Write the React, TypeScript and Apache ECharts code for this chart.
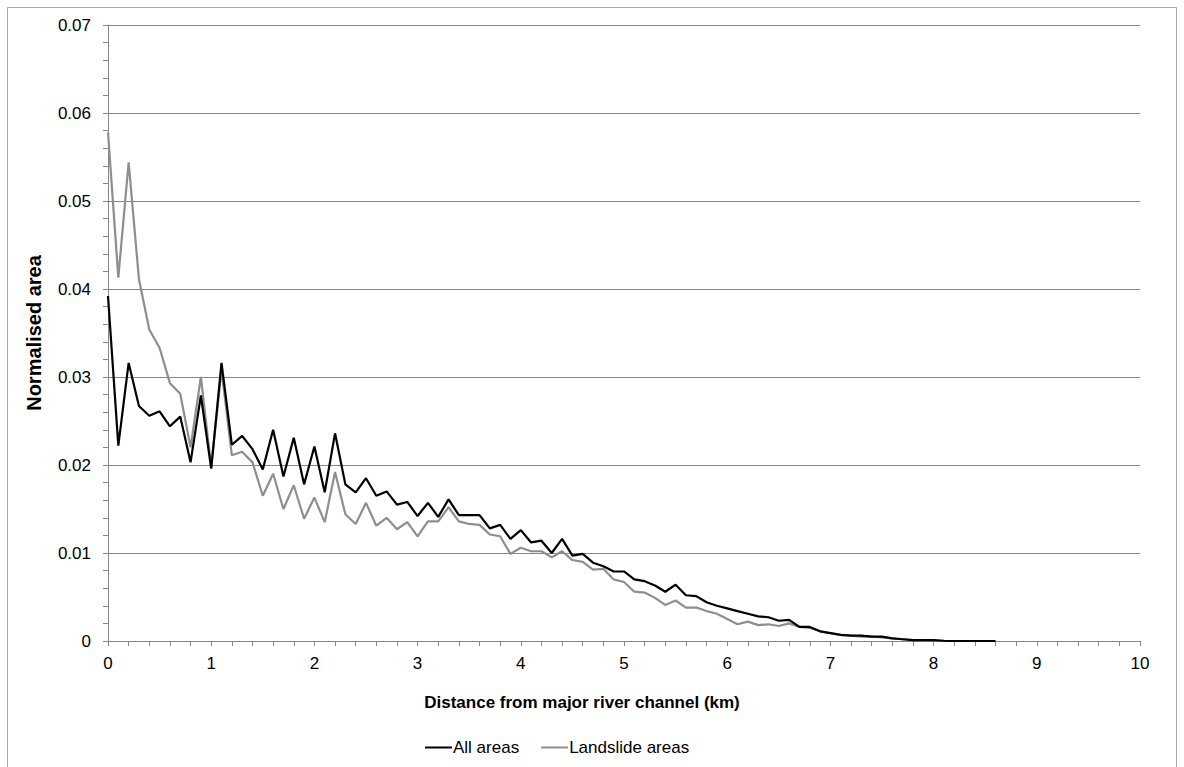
import React, { useEffect, useRef } from "react";
import * as echarts from "echarts";

const distances = [
  0.0, 0.1, 0.2, 0.3, 0.4, 0.5, 0.6, 0.7, 0.8, 0.9,
  1.0, 1.1, 1.2, 1.3, 1.4, 1.5, 1.6, 1.7, 1.8, 1.9,
  2.0, 2.1, 2.2, 2.3, 2.4, 2.5, 2.6, 2.7, 2.8, 2.9,
  3.0, 3.1, 3.2, 3.3, 3.4, 3.5, 3.6, 3.7, 3.8, 3.9,
  4.0, 4.1, 4.2, 4.3, 4.4, 4.5, 4.6, 4.7, 4.8, 4.9,
  5.0, 5.1, 5.2, 5.3, 5.4, 5.5, 5.6, 5.7, 5.8, 5.9,
  6.0, 6.1, 6.2, 6.3, 6.4, 6.5, 6.6, 6.7, 6.8, 6.9,
  7.0, 7.1, 7.2, 7.3, 7.4, 7.5, 7.6, 7.7, 7.8, 7.9,
  8.0, 8.1, 8.2, 8.3, 8.4, 8.5, 8.6,
];

const allAreas = [
  0.0392, 0.0222, 0.0316, 0.0267, 0.0256, 0.0261, 0.0244, 0.0255, 0.0203, 0.0279,
  0.0196, 0.0316, 0.0223, 0.0233, 0.0218, 0.0195, 0.0240, 0.0187, 0.0231, 0.0178,
  0.0221, 0.0169, 0.0236, 0.0178, 0.0169, 0.0185, 0.0165, 0.0170, 0.0155, 0.0158,
  0.0142, 0.0157, 0.0141, 0.0161, 0.0143, 0.0143, 0.0143, 0.0128, 0.0132, 0.0116,
  0.0126, 0.0112, 0.0114, 0.0100, 0.0116, 0.0097, 0.0099, 0.0089, 0.0085, 0.0079,
  0.0079, 0.0070, 0.0068, 0.0063, 0.0056, 0.0064, 0.0052, 0.0051, 0.0044, 0.0040,
  0.0037, 0.0034, 0.0031, 0.0028, 0.0027, 0.0023, 0.0024, 0.0016, 0.0016, 0.0011,
  0.0009, 0.0007, 0.0006, 0.0006, 0.0005, 0.0005, 0.0003, 0.0002, 0.0001, 0.0001,
  0.0001, 0.00003, 0, 0, 0, 0, 0,
];

const landslideAreas = [
  0.0578, 0.0413, 0.0544, 0.0411, 0.0354, 0.0333, 0.0293, 0.0281, 0.0220, 0.0300,
  0.0198, 0.0308, 0.0211, 0.0215, 0.0203, 0.0165, 0.0190, 0.0150, 0.0177, 0.0139,
  0.0163, 0.0135, 0.0192, 0.0144, 0.0133, 0.0157, 0.0131, 0.0140, 0.0127, 0.0135,
  0.0119, 0.0136, 0.0136, 0.0152, 0.0136, 0.0133, 0.0132, 0.0121, 0.0119, 0.0099,
  0.0106, 0.0102, 0.0102, 0.0095, 0.0102, 0.0092, 0.0090, 0.0081, 0.0082, 0.0070,
  0.0067, 0.0056, 0.0055, 0.0049, 0.0041, 0.0046, 0.0038, 0.0038, 0.0034, 0.0031,
  0.0025, 0.0019, 0.0022, 0.0018, 0.0019, 0.0017, 0.0020, 0.0016, 0.0015, 0.0011,
  0.0009, 0.0007, 0.0006, 0.0005, 0.0005, 0.0004, 0.0003, 0.0002, 0.0001, 0.0001,
  0.00005, 0, 0, 0, 0, 0, 0,
];

const seriesNames = ["All areas", "Landslide areas"];
const xTitle = "Distance from major river channel (km)";
const yTitle = "Normalised area";

export default function App() {
  const ref = useRef<HTMLDivElement>(null);

  useEffect(() => {
    if (!ref.current) return;
    const chart = echarts.init(ref.current, null, { renderer: "svg" });
    const font = "'Liberation Sans', Arial, sans-serif";
    const axisGray = "#878787";
    chart.setOption({
      animation: false,
      backgroundColor: "#ffffff",
      textStyle: { fontFamily: font },
      grid: { left: 108, top: 25, right: 44, bottom: 126, containLabel: false },
      legend: {
        data: seriesNames,
        left: 425,
        top: 739,
        padding: 0,
        icon: "rect",
        itemWidth: 27,
        itemHeight: 2,
        itemGap: 22,
        textStyle: { fontFamily: font, fontSize: 17, color: "#000", padding: [0, 0, 0, -4] },
      },
      graphic: [
        {
          type: "rect",
          shape: { x: 7.5, y: 7.5, width: 1169, height: 775 },
          style: { fill: "none", stroke: "#a6a6a6", lineWidth: 1 },
          silent: true,
        },
        {
          type: "text",
          x: 582,
          y: 702,
          style: {
            text: xTitle,
            fontFamily: font,
            fontSize: 17,
            fontWeight: "bold",
            fill: "#000",
            align: "center",
            verticalAlign: "middle",
          },
        },
      ],
      xAxis: {
        type: "value",
        min: 0,
        max: 10,
        interval: 1,
        axisLine: { show: true, lineStyle: { color: axisGray, width: 1 } },
        axisTick: { show: true, inside: false, length: 5, lineStyle: { color: axisGray } },
        minorTick: { show: true, splitNumber: 5, length: 5, lineStyle: { color: axisGray } },
        splitLine: { show: false },
        axisLabel: { fontFamily: font, fontSize: 17, color: "#000", margin: 14 },
      },
      yAxis: {
        type: "value",
        min: 0,
        max: 0.07,
        interval: 0.01,
        name: yTitle,
        nameLocation: "middle",
        nameGap: 64,
        nameRotate: 90,
        nameTextStyle: { fontFamily: font, fontSize: 20, fontWeight: "bold", color: "#000" },
        axisLine: { show: true, lineStyle: { color: axisGray, width: 1 } },
        axisTick: { show: true, inside: false, length: 5, lineStyle: { color: axisGray } },
        minorTick: { show: true, splitNumber: 5, length: 5, lineStyle: { color: axisGray } },
        splitLine: { show: true, lineStyle: { color: axisGray, width: 1 } },
        axisLabel: {
          fontFamily: font,
          fontSize: 17,
          color: "#000",
          margin: 17,
          formatter: (v: number) => (v === 0 ? "0" : v.toFixed(2)),
        },
      },
      series: [
        {
          name: seriesNames[0],
          type: "line",
          data: distances.map((d, i) => [d, allAreas[i]]),
          showSymbol: false,
          symbol: "none",
          lineStyle: { color: "#000000", width: 2.2 },
          itemStyle: { color: "#000000" },
          z: 3,
        },
        {
          name: seriesNames[1],
          type: "line",
          data: distances.map((d, i) => [d, landslideAreas[i]]),
          showSymbol: false,
          symbol: "none",
          lineStyle: { color: "#8e8e8e", width: 2.2 },
          itemStyle: { color: "#8e8e8e" },
          z: 2,
        },
      ],
    });
    return () => chart.dispose();
  }, []);

  return (
    <div
      ref={ref}
      style={{ position: "fixed", left: 0, top: 0, width: 1184, height: 767 }}
    />
  );
}
